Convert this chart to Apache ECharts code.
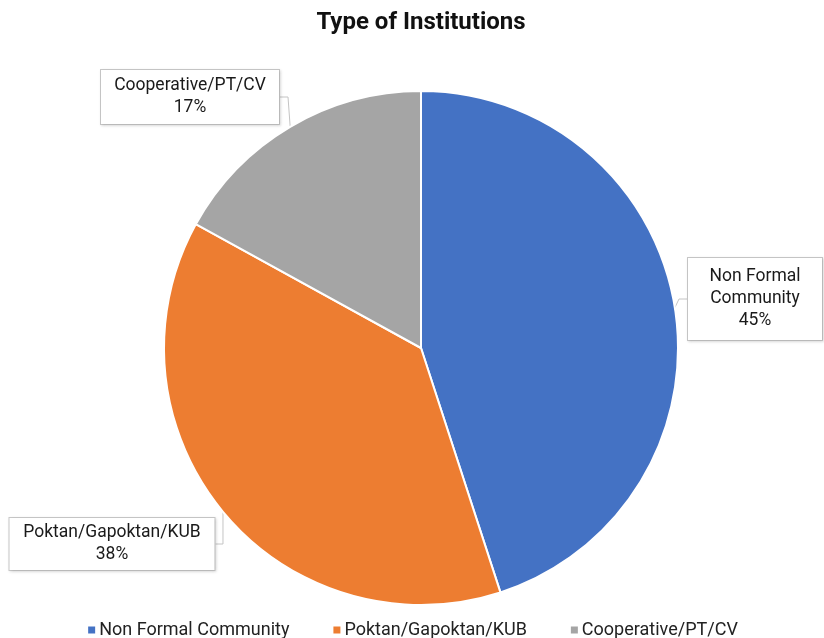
<!DOCTYPE html>
<html>
<head>
<meta charset="utf-8">
<title>Type of Institutions</title>
<script src="https://cdn.jsdelivr.net/npm/echarts@6/dist/echarts.min.js"></script>
<style>
  html, body { margin: 0; padding: 0; background: #ffffff; }
  #chart { width: 824px; height: 638px; }
</style>
</head>
<body>
<div id="chart"></div>
<script>
// Institution types and their shares (%)
const categories = ['Non Formal Community', 'Poktan/Gapoktan/KUB', 'Cooperative/PT/CV'];
const shares = [45, 38, 17];
const labelTexts = ['Non Formal\nCommunity', 'Poktan/Gapoktan/KUB', 'Cooperative/PT/CV'];
const colors = ['#4472C4', '#ED7D31', '#A5A5A5'];

// Callout box centre, text width and vertical padding for each slice label
const calloutCentres = [[755, 299], [112, 544], [190, 97]];
const calloutWidths = [134, 205, 178];
const calloutPadV = [8, 4, 5];

const chart = echarts.init(document.getElementById('chart'), null, { renderer: 'canvas' });

chart.setOption({
  animation: false,
  color: colors,
  textStyle: { fontFamily: 'Roboto, "Noto Sans", sans-serif' },
  title: {
    text: 'Type of Institutions',
    left: 416,
    textAlign: 'center',
    top: 6,
    textStyle: { fontSize: 24, fontWeight: 'bold', color: '#111111', fontFamily: 'Roboto, sans-serif' }
  },
  legend: {
    top: 616,
    left: 'center',
    icon: 'rect',
    itemWidth: 9,
    itemHeight: 9,
    itemGap: 42,
    textStyle: { fontSize: 18, color: '#222222', padding: [0, 0, 0, -2] },
    data: categories
  },
  series: [{
    type: 'pie',
    center: [421, 348],
    radius: 257,
    startAngle: 90,
    clockwise: true,
    itemStyle: { borderColor: '#ffffff', borderWidth: 2 },
    data: categories.map((name, i) => ({
      name: name,
      value: shares[i],
      label: {
        formatter: labelTexts[i] + '\n{d}%',
        width: calloutWidths[i],
        padding: [calloutPadV[i], 0, calloutPadV[i], 0]
      }
    })),
    label: {
      show: true,
      position: 'outside',
      overflow: 'none',
      fontSize: 17.5,
      lineHeight: 22,
      color: '#1a1a1a',
      align: 'center',
      backgroundColor: '#ffffff',
      borderColor: '#c8c8c8',
      borderWidth: 1,
      shadowColor: 'rgba(0,0,0,0.12)',
      shadowBlur: 3,
      shadowOffsetX: 1,
      shadowOffsetY: 1
    },
    labelLine: {
      show: true,
      length: 8,
      length2: 8,
      lineStyle: { color: '#c4c4c4', width: 1 }
    },
    labelLayout: function (params) {
      const c = calloutCentres[params.dataIndex];
      return {
        x: c[0],
        y: c[1],
        align: 'center',
        verticalAlign: 'middle'
      };
    }
  }]
});
</script>
</body>
</html>
